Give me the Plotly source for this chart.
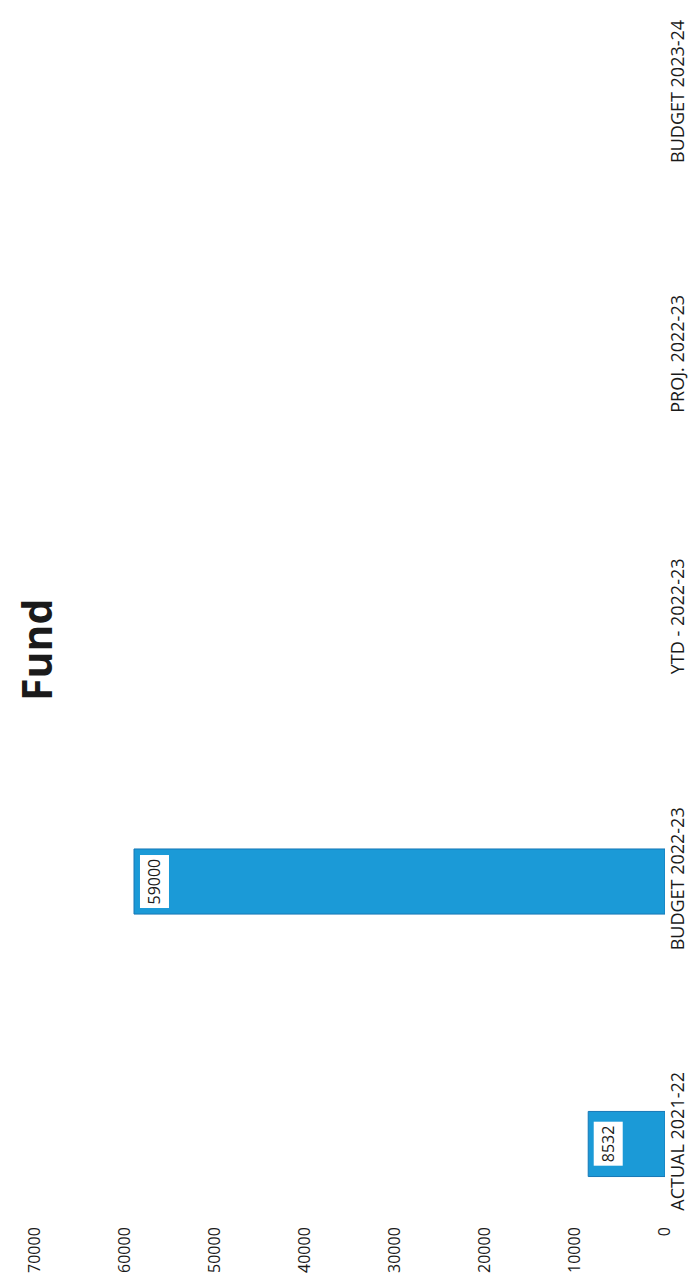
import plotly.graph_objects as go

categories = ["ACTUAL 2021-22", "BUDGET 2022-23", "YTD - 2022-23", "PROJ. 2022-23", "BUDGET 2023-24"]
values = [8532, 59000, None, None, None]
value_ticks = [0, 10000, 20000, 30000, 40000, 50000, 60000, 70000]
title_text = "Fund"

FONT = "Open Sans"
bar_color = "#1b9ad7"
edge_color = "#1677b6"

fig = go.Figure()
fig.add_trace(go.Bar(
    x=values,
    y=categories,
    orientation="h",
    marker=dict(color=bar_color, line=dict(color=edge_color, width=1)),
    hoverinfo="skip",
))

for c, v in zip(categories, values):
    if v is None:
        continue
    fig.add_annotation(
        x=v, y=c, xref="x", yref="y",
        text=str(v), textangle=-90,
        showarrow=False, xanchor="left", yanchor="middle", xshift=5,
        bgcolor="white", borderpad=3,
        font=dict(family=FONT, size=16, color="#1a1a1a"),
    )

fig.add_annotation(
    x=0.0016, y=0.4716, xref="paper", yref="paper",
    text="<b>" + title_text + "</b>", textangle=-90, showarrow=False,
    xanchor="center", yanchor="middle",
    font=dict(family=FONT, size=41, color="#1a1a1a"),
)

fig.update_layout(
    width=699, height=1281,
    margin=dict(l=27, r=42, t=0, b=66),
    paper_bgcolor="white", plot_bgcolor="white",
    showlegend=False,
    bargap=0.752,
    font=dict(family=FONT, size=16, color="#1a1a1a"),
)
fig.update_xaxes(
    range=[70000, 0], tickvals=value_ticks, ticktext=[str(t) for t in value_ticks],
    tickangle=-90, showgrid=False, zeroline=False, showline=False, ticks="",
    tickfont=dict(family=FONT, size=16, color="#1a1a1a"),
)
fig.update_yaxes(
    type="category", categoryorder="array", categoryarray=categories,
    range=[-0.301, 4.328], side="right", tickangle=-90,
    showgrid=False, zeroline=False, showline=False, ticks="",
    tickfont=dict(family=FONT, size=18, color="#1a1a1a"),
)

fig.write_html("out.html")
